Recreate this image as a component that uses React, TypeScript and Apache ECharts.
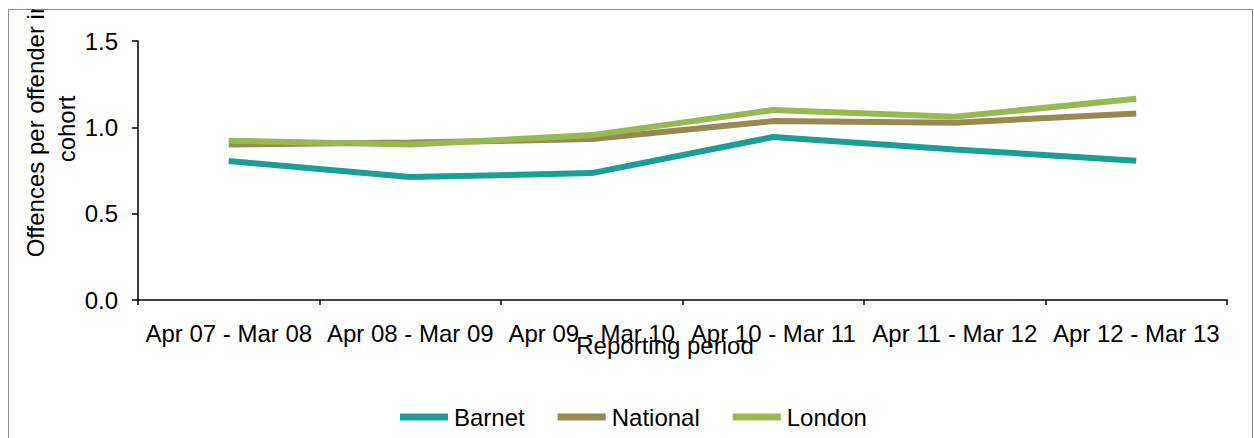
import React, { useEffect, useRef } from "react";
import * as echarts from "echarts";

const categories = [
  "Apr 07 - Mar 08",
  "Apr 08 - Mar 09",
  "Apr 09 - Mar 10",
  "Apr 10 - Mar 11",
  "Apr 11 - Mar 12",
  "Apr 12 - Mar 13",
];
const barnet = [0.805, 0.712, 0.735, 0.944, 0.872, 0.807];
const national = [0.9, 0.912, 0.932, 1.036, 1.027, 1.08];
const london = [0.922, 0.9, 0.955, 1.1, 1.062, 1.165];
const yTicks = [0, 0.5, 1.0, 1.5];

const FONT = "'Liberation Sans', Arial, sans-serif";
const FS = 24;

export default function App() {
  const ref = useRef<HTMLDivElement>(null);
  useEffect(() => {
    if (!ref.current) return;
    const chart = echarts.init(ref.current, null, { renderer: "svg" });
    chart.setOption({
      animation: false,
      textStyle: { fontFamily: FONT, color: "#000" },
      grid: { left: 130, top: 32, width: 1089, height: 259 },
      xAxis: {
        type: "category",
        data: categories,
        boundaryGap: true,
        axisLine: { lineStyle: { color: "#000", width: 1.5 } },
        axisTick: { show: true, length: 5, lineStyle: { color: "#000", width: 1.5 } },
        axisLabel: { fontSize: FS, color: "#000", fontFamily: FONT, margin: 21, interval: 0 },
        splitLine: { show: false },
      },
      yAxis: {
        type: "value",
        min: yTicks[0],
        max: yTicks[yTicks.length - 1],
        interval: 0.5,
        axisLine: { show: true, lineStyle: { color: "#000", width: 1.5 } },
        axisTick: { show: true, length: 6, lineStyle: { color: "#000", width: 1.5 } },
        axisLabel: {
          fontSize: FS,
          color: "#000",
          fontFamily: FONT,
          margin: 20,
          formatter: (v: number) => v.toFixed(1),
        },
        splitLine: { show: false },
      },
      legend: {
        left: 387,
        top: 391,
        itemWidth: 48,
        itemHeight: 7,
        itemGap: 33,
        icon: "rect",
        textStyle: { fontSize: FS, color: "#000", fontFamily: FONT, padding: [0, 0, 0, 1] },
        data: ["Barnet", "National", "London"],
      },
      series: [
        {
          name: "Barnet",
          type: "line",
          data: barnet,
          symbol: "none",
          color: "#1b9e96",
          lineStyle: { width: 6, color: "#1b9e96" },
        },
        {
          name: "National",
          type: "line",
          data: national,
          symbol: "none",
          color: "#978a50",
          lineStyle: { width: 6, color: "#978a50" },
        },
        {
          name: "London",
          type: "line",
          data: london,
          symbol: "none",
          color: "#97b952",
          lineStyle: { width: 6, color: "#97b952" },
        },
      ],
      graphic: [
        {
          type: "rect",
          shape: { x: 0.5, y: 0.5, width: 1244, height: 440 },
          style: { fill: "none", stroke: "#8c8c8c", lineWidth: 1 },
          silent: true,
        },
        {
          type: "text",
          x: 27,
          y: 120,
          rotation: Math.PI / 2,
          style: {
            text: "Offences per offender in",
            fontSize: FS,
            fontFamily: FONT,
            fill: "#000",
            align: "center",
            verticalAlign: "middle",
          },
        },
        {
          type: "text",
          x: 58,
          y: 120,
          rotation: Math.PI / 2,
          style: {
            text: "cohort",
            fontSize: FS,
            fontFamily: FONT,
            fill: "#000",
            align: "center",
            verticalAlign: "middle",
          },
        },
        {
          type: "text",
          x: 657,
          y: 336,
          style: {
            text: "Reporting period",
            fontSize: FS,
            fontFamily: FONT,
            fill: "#000",
            align: "center",
            verticalAlign: "middle",
          },
        },
      ],
    });
    return () => chart.dispose();
  }, []);
  return (
    <div
      ref={ref}
      style={{ position: "absolute", left: 8, top: 9, width: 1246, height: 429 }}
    />
  );
}
